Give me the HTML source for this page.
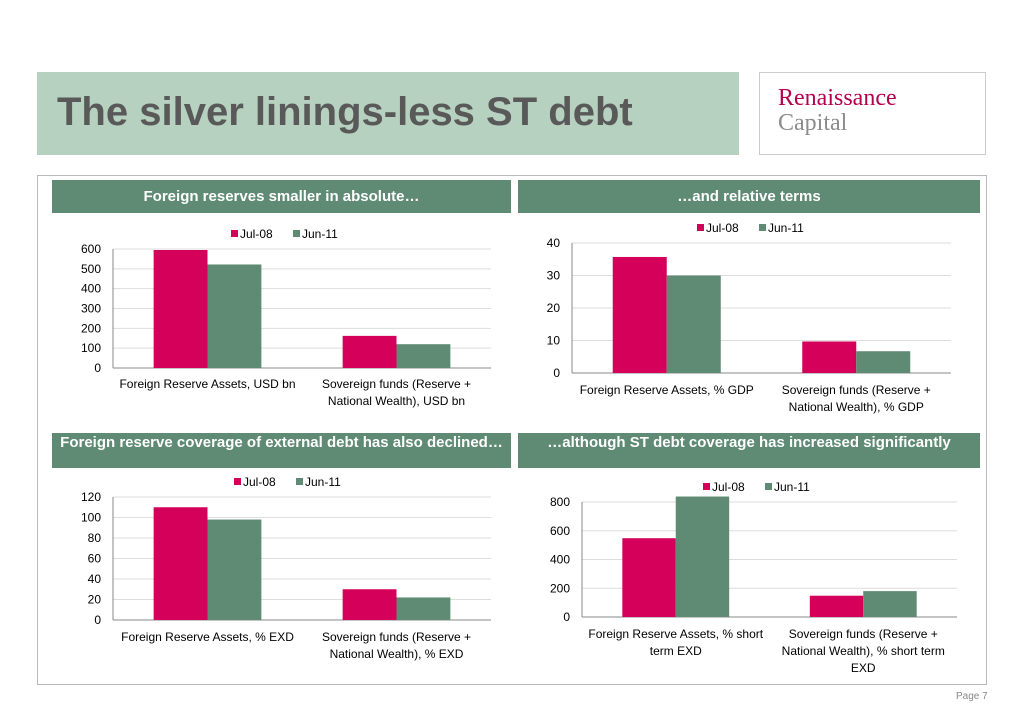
<!DOCTYPE html>
<html><head><meta charset="utf-8"><style>
body{margin:0;width:1023px;height:723px;background:#fff;font-family:"Liberation Sans",Arial,sans-serif;position:relative;overflow:hidden}
.abs{position:absolute}
.hdr{position:absolute;background:#5f8b74;color:#fff;font-weight:bold;font-size:15px;text-align:center;line-height:17px;overflow:hidden}
svg text{font-family:"Liberation Sans",Arial,sans-serif;font-size:12px;fill:#000}
</style></head><body>
<div class="abs" style="left:37px;top:72px;width:702px;height:83px;background:#b7d1c0"></div>
<div class="abs" style="left:57px;top:90px;font-size:40px;font-weight:bold;color:#595959">The silver linings-less ST debt</div>
<div class="abs" style="left:759px;top:72px;width:227px;height:83px;border:1px solid #ccc;box-sizing:border-box"></div>
<div class="abs" style="left:778px;top:86px;font-family:'Liberation Serif',serif;font-size:24px;color:#b5004f;line-height:24px">Renaissance</div>
<div class="abs" style="left:778px;top:111px;font-family:'Liberation Serif',serif;font-size:24px;color:#8c8c8c;line-height:24px">Capital</div>
<div class="abs" style="left:37px;top:175px;width:950px;height:510px;border:1px solid #bbb;box-sizing:border-box"></div>
<div class="hdr" style="left:52px;top:180px;width:459px;height:33px;line-height:33px">Foreign reserves smaller in absolute…</div>
<div class="hdr" style="left:518px;top:180px;width:462px;height:33px;line-height:33px">…and relative terms</div>
<div class="hdr" style="left:52px;top:433px;width:459px;height:35px;padding-top:1px;box-sizing:border-box">Foreign reserve coverage of external debt has also declined…</div>
<div class="hdr" style="left:518px;top:433px;width:462px;height:35px;padding-top:1px;box-sizing:border-box">…although ST debt coverage has increased significantly</div>
<div class="abs" style="left:956px;top:691px;font-size:10px;color:#888">Page 7</div>
<svg id="svg" class="abs" style="left:0;top:0" width="1023" height="723"></svg>
<script>
const series = ["Jul-08","Jun-11"];
const c1Cats = [["Foreign Reserve Assets, USD bn"],["Sovereign funds (Reserve +","National Wealth), USD bn"]];
const c1Jul = [595,162];
const c1Jun = [522,120];
const c1Ticks = [0,100,200,300,400,500,600];
const c2Cats = [["Foreign Reserve Assets, % GDP"],["Sovereign funds (Reserve +","National Wealth), % GDP"]];
const c2Jul = [35.7,9.7];
const c2Jun = [30,6.7];
const c2Ticks = [0,10,20,30,40];
const c3Cats = [["Foreign Reserve Assets, % EXD"],["Sovereign funds (Reserve +","National Wealth), % EXD"]];
const c3Jul = [110,30];
const c3Jun = [98,22];
const c3Ticks = [0,20,40,60,80,100,120];
const c4Cats = [["Foreign Reserve Assets, % short","term EXD"],["Sovereign funds (Reserve +","National Wealth), % short term","EXD"]];
const c4Jul = [548,148];
const c4Jun = [838,180];
const c4Ticks = [0,200,400,600,800];
const colors = ["#d4005a","#5f8b74"];
const svg = document.getElementById('svg');
const NS = "http://www.w3.org/2000/svg";
function mk(tag, attrs){const e=document.createElementNS(NS,tag);for(const k in attrs)e.setAttribute(k,attrs[k]);svg.appendChild(e);return e;}
function chart(id, cats, vals, ticks, xl, xr, y0, ytop, legX, legY, labY){
  const max = ticks[ticks.length-1];
  const y = v => y0 - (v/max)*(y0-ytop);
  const band = (xr-xl)/cats.length;
  const bw = band*0.285;
  ticks.forEach(t=>{
    const g = mk('line',{x1:xl,x2:xr,y1:y(t),y2:y(t),stroke:t===0?'#888':'#ddd','stroke-width':1});
    
    
    const tx = mk('text',{x:xl-12,y:y(t)+4,'text-anchor':'end'});
    tx.textContent = t;
    
    
  });
  const ax = mk('line',{x1:xl,x2:xl,y1:ytop,y2:y0,stroke:'#888'});
  
  
  cats.forEach((c,i)=>{
    const cx = xl + band*(i+0.5);
    vals.forEach((s,j)=>{
      const bx = cx - bw + j*bw;
      const r = mk('rect',{x:bx,y:y(s[i]),width:bw,height:y0-y(s[i]),fill:colors[j]});
      
      
    });
    c.forEach((line,k)=>{
      const t = mk('text',{x:cx,y:labY+k*17,'text-anchor':'middle'});
      t.textContent = line;
      
      
    });
  });
  series.forEach((s,j)=>{
    const lx = legX + j*62;
    const r = mk('rect',{x:lx,y:legY-8,width:7,height:7,fill:colors[j]});
    
    
    const t = mk('text',{x:lx+9,y:legY});
    t.textContent = s;
    
    
  });
}
chart('chart1', c1Cats, [c1Jul,c1Jun], c1Ticks, 113, 491, 368, 249, 231, 238, 388);
chart('chart2', c2Cats, [c2Jul,c2Jun], c2Ticks, 572, 951, 373, 243, 697, 232, 394);
chart('chart3', c3Cats, [c3Jul,c3Jun], c3Ticks, 113, 491, 620, 497, 234, 486, 641);
chart('chart4', c4Cats, [c4Jul,c4Jun], c4Ticks, 582, 957, 617, 502, 703, 491, 638);
</script>
</body></html>
